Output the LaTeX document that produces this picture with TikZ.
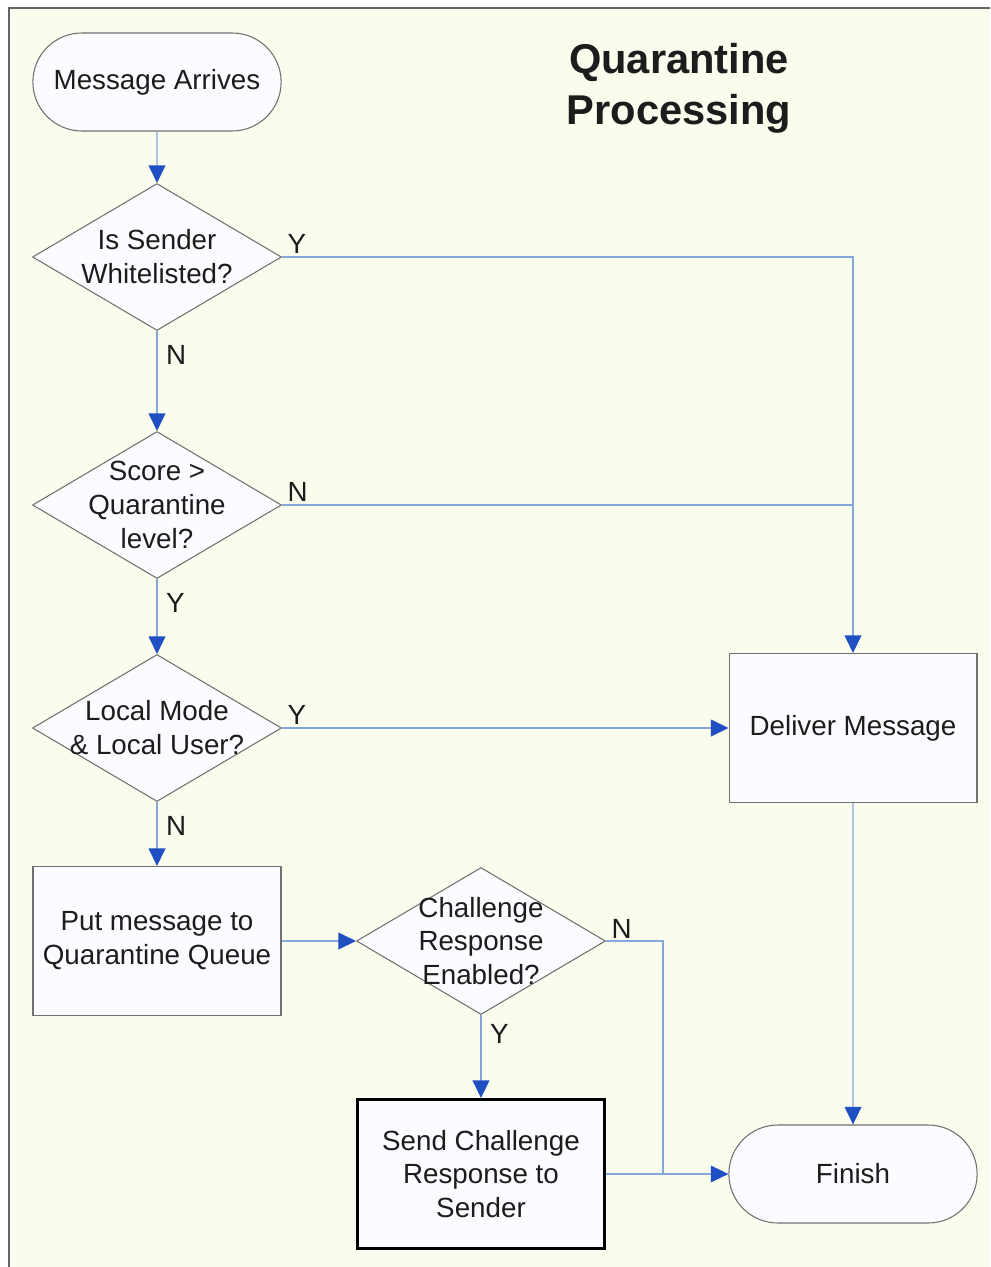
\documentclass[tikz,border=0pt]{standalone}
\usepackage{fontspec}
\setmainfont{Liberation Sans}
\usepackage{tikz}
\usetikzlibrary{positioning}
\usetikzlibrary{arrows.meta}
\usetikzlibrary{shapes.geometric}
\usetikzlibrary{shapes.misc}

\definecolor{paper}{HTML}{FAFCEE}
\definecolor{boxfill}{HTML}{FBFCFF}
\definecolor{boxline}{HTML}{707070}
\definecolor{flowline}{HTML}{84A8DC}
\definecolor{tipblue}{HTML}{1F4FC2}
\definecolor{ink}{HTML}{1C1C1C}

\begin{document}
\begin{tikzpicture}[x=0.02cm,y=-0.02cm,
    txt/.style={text=ink,font=\fontsize{15.8}{19.3}\selectfont,align=center},
    terminal/.style={rounded rectangle,draw=boxline,line width=0.6pt,fill=boxfill,
      minimum width=5.2cm,minimum height=1.96cm,txt},
    process/.style={rectangle,draw=boxline,line width=0.6pt,fill=boxfill,
      minimum width=4.96cm,minimum height=2.98cm,txt},
    decision/.style={diamond,draw=boxline,line width=0.6pt,fill=boxfill,
      minimum width=4.98cm,minimum height=2.94cm,inner sep=0pt},
    dtext/.style={txt,inner sep=0pt},
    lbl/.style={txt,inner sep=0pt},
    link/.style={draw=flowline,line width=0.8pt},
    flow/.style={link,-{Triangle[length=10pt,width=9.5pt,color=tipblue]}}]
  % Boundary
  \path[use as bounding box] (0,0) rectangle (990,1267);
  \fill[paper] (9,8) rectangle (990,1267);
  \draw[boxline!90!black,line width=1.1pt] (9,1267) -- (9,8) -- (990,8);
  % Title
  \node[txt,font=\fontsize{23.7}{29}\selectfont\bfseries] (title) at (679,88) {Quarantine\\Processing};
  % Left column
  \node[terminal] (start) at (157,82) {Message Arrives};
  \node[decision,label={[dtext]center:{Is Sender\\Whitelisted?}}] (white) at (157,257) {};
  \node[decision,label={[dtext]center:{Score >\\Quarantine\\level?}}] (score) at (157,505) {};
  \node[decision,label={[dtext]center:{Local Mode\\\& Local User?}}] (local) at (157,728) {};
  \node[process] (queue) at (157,941) {Put message to\\Quarantine Queue};
  % Middle column
  \node[decision,label={[dtext]center:{Challenge\\Response\\Enabled?}}] (challenge) at (481,941) {};
  \node[process,line width=1.7pt,draw=black] (send) at (481,1174) {Send Challenge\\Response to\\Sender};
  % Right column
  \node[process] (deliver) at (853,728) {Deliver Message};
  \node[terminal] (finish) at (853,1174) {Finish};
  \coordinate (join) at (663,1174);
  % Connectors
  \draw[flow] (start) -- (white);
  \draw[flow] (white.east) -| (deliver.north);
  \draw[link] (score.east) -- (score.east -| deliver.north);
  \draw[flow] (local) -- (deliver);
  \draw[flow] (white) -- (score);
  \draw[flow] (score) -- (local);
  \draw[flow] (local) -- (queue);
  \draw[flow] (queue) -- (challenge);
  \draw[flow] (challenge) -- (send);
  \draw[link] (challenge.east) -| (join);
  \draw[flow] (send) -- (finish);
  \draw[flow] (deliver) -- (finish);
  % Branch labels
  \node[lbl,above right=2pt and 3pt of white.east] (whiteY) {Y};
  \node[lbl,below right=8pt and 5pt of white.south] (whiteN) {N};
  \node[lbl,above right=2pt and 3pt of score.east] (scoreN) {N};
  \node[lbl,below right=8pt and 5pt of score.south] (scoreY) {Y};
  \node[lbl,above right=2pt and 3pt of local.east] (localY) {Y};
  \node[lbl,below right=8pt and 5pt of local.south] (localN) {N};
  \node[lbl,above right=1pt and 3pt of challenge.east] (challengeN) {N};
  \node[lbl,below right=5pt and 5pt of challenge.south] (challengeY) {Y};
\end{tikzpicture}
\end{document}
